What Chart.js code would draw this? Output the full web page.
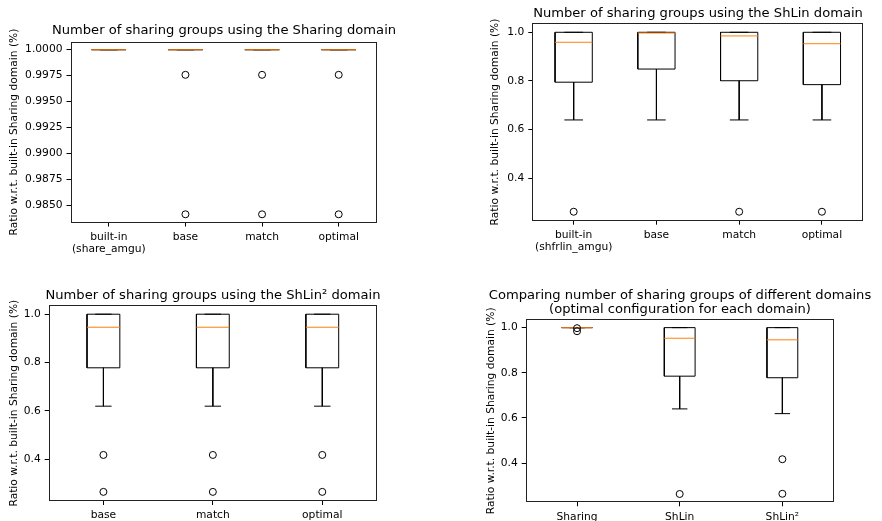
<!DOCTYPE html>
<html>
<head>
<meta charset="utf-8">
<script src="https://cdn.jsdelivr.net/npm/chart.js@4"></script>
<style>
  html, body { margin: 0; padding: 0; background: #fff; overflow: hidden; width: 882px; height: 521px; }
  canvas { position: absolute; }
</style>
</head>
<body>
<canvas id="c1" width="448" height="262" style="left:0px;top:0px"></canvas>
<canvas id="c2" width="436" height="262" style="left:480px;top:0px"></canvas>
<canvas id="c3" width="426" height="259" style="left:0px;top:262px"></canvas>
<canvas id="c4" width="400" height="259" style="left:480px;top:262px"></canvas>
<script>
// Sharing domain
const shCats = ['built-in\n(share_amgu)', 'base', 'match', 'optimal'];
const shLow = [1, 1, 1, 1];
const shQ1 = [1, 1, 1, 1];
const shMed = [1, 1, 1, 1];
const shQ3 = [1, 1, 1, 1];
const shHigh = [1, 1, 1, 1];
const shOut = [[], [0.99758, 0.98414], [0.99758, 0.98414], [0.99758, 0.98414]];
const shTicks = [0.985, 0.9875, 0.99, 0.9925, 0.995, 0.9975, 1.0];

// ShLin domain
const slCats = ['built-in\n(shfrlin_amgu)', 'base', 'match', 'optimal'];
const slLow = [0.64, 0.64, 0.64, 0.64];
const slQ1 = [0.795, 0.849, 0.801, 0.785];
const slMed = [0.959, 0.997, 0.985, 0.953];
const slQ3 = [1, 1, 1, 1];
const slHigh = [1, 1, 1, 1];
const slOut = [[0.263], [], [0.263], [0.263]];
const slTicks = [0.4, 0.6, 0.8, 1.0];

// ShLin² domain
const s2Cats = ['base', 'match', 'optimal'];
const s2Low = [0.619, 0.619, 0.619];
const s2Q1 = [0.778, 0.778, 0.778];
const s2Med = [0.946, 0.946, 0.946];
const s2Q3 = [1, 1, 1];
const s2High = [1, 1, 1];
const s2Out = [[0.417, 0.264], [0.417, 0.264], [0.417, 0.264]];
const s2Ticks = [0.4, 0.6, 0.8, 1.0];

// domains compared (optimal config)
const cmpCats = ['Sharing', 'ShLin', 'ShLin²'];
const cmpLow = [1, 0.64, 0.619];
const cmpQ1 = [1, 0.785, 0.778];
const cmpMed = [1, 0.953, 0.946];
const cmpQ3 = [1, 1, 1];
const cmpHigh = [1, 1, 1];
const cmpOut = [[0.99758, 0.98414], [0.263], [0.417, 0.264]];
const cmpTicks = [0.4, 0.6, 0.8, 1.0];

const yLabelText = 'Ratio w.r.t. built-in Sharing domain (%)';
const FONT = '"DejaVu Sans", sans-serif';
const TITLE_SIZE = 13.1;

Chart.defaults.color = '#000';
Chart.defaults.font.family = FONT;

const framePlugin = {
  id: 'frame',
  afterDatasetsDraw(chart) {
    const a = chart.chartArea, ctx = chart.ctx;
    ctx.save();
    ctx.strokeStyle = '#222';
    ctx.lineWidth = 1;
    const l = Math.round(a.left) + 0.5, t = Math.round(a.top) + 0.5;
    const r = Math.round(a.right) - 0.5, b = Math.round(a.bottom) - 0.5;
    ctx.strokeRect(l, t, r - l, b - t);
    ctx.restore();
  }
};

const yLabelPlugin = {
  id: 'yLabel',
  afterDraw(chart, args, opts) {
    const a = chart.chartArea, ctx = chart.ctx;
    ctx.save();
    ctx.translate(a.left - opts.offset, (a.top + a.bottom) / 2);
    ctx.rotate(-Math.PI / 2);
    ctx.font = '10.7px ' + FONT;
    ctx.fillStyle = '#000';
    ctx.textAlign = 'center';
    ctx.textBaseline = 'middle';
    ctx.fillText(opts.text, 0, 0);
    ctx.restore();
  }
};

function boxDatasets(low, q1, med, q3, high, out) {
  const w = Math.min(0.5, 0.15 * (med.length - 1));
  const boxes = [], whiskers = [], medians = [], fliers = [];
  med.forEach((m, i) => {
    const x = i + 1;
    boxes.push({x: x - w / 2, y: q1[i]}, {x: x + w / 2, y: q1[i]}, {x: x + w / 2, y: q3[i]},
               {x: x - w / 2, y: q3[i]}, {x: x - w / 2, y: q1[i]}, {x: x, y: null});
    whiskers.push({x, y: q1[i]}, {x, y: low[i]}, {x, y: null},
                  {x, y: q3[i]}, {x, y: high[i]}, {x, y: null},
                  {x: x - w / 4, y: low[i]}, {x: x + w / 4, y: low[i]}, {x, y: null},
                  {x: x - w / 4, y: high[i]}, {x: x + w / 4, y: high[i]}, {x, y: null});
    medians.push({x: x - w / 2, y: m}, {x: x + w / 2, y: m}, {x, y: null});
    out[i].forEach(v => fliers.push({x, y: v}));
  });
  const line = (data, color) => ({
    data, yAxisID: 'y', borderColor: color, borderWidth: 1, pointRadius: 0, spanGaps: false, fill: false
  });
  return [
    { data: fliers, yAxisID: 'y', showLine: false, pointStyle: 'circle', pointRadius: 3.5,
      pointBorderColor: '#000', pointBackgroundColor: 'rgba(0,0,0,0)', pointBorderWidth: 1 },
    line(medians, '#ff7f0e'),
    line(whiskers, '#000'),
    line(boxes, '#000')
  ];
}

function makeChart(id, p) {
  const n = p.cats.length;
  const lines = Array.isArray(p.title) ? p.title.length : 1;
  const lh = TITLE_SIZE * (p.titleLH || 1.2);
  const padTop = p.titleY - lh / 2;
  const padBottom = p.axTop - p.titleY - lh / 2 - (lines - 1) * lh;
  new Chart(document.getElementById(id), {
    type: 'line',
    data: { datasets: boxDatasets(p.low, p.q1, p.med, p.q3, p.high, p.out) },
    options: {
      responsive: false,
      animation: false,
      devicePixelRatio: 1,
      events: [],
      layout: { padding: 0 },
      plugins: {
        legend: { display: false },
        tooltip: { enabled: false },
        title: {
          display: true,
          text: p.title,
          color: '#000',
          font: { size: TITLE_SIZE, weight: 'normal', lineHeight: p.titleLH || 1.2 },
          padding: { top: padTop, bottom: padBottom }
        },
        yLabel: { text: yLabelText, offset: p.labelOff }
      },
      scales: {
        x: {
          type: 'linear',
          min: 0.5,
          max: n + 0.5,
          afterBuildTicks: s => { s.ticks = p.cats.map((c, i) => ({ value: i + 1 })); },
          afterFit: s => { s.height = p.xH; },
          ticks: {
            autoSkip: false, maxRotation: 0, padding: 4.5,
            font: { size: 10.7, lineHeight: 1.15 },
            callback: v => p.cats[Math.round(v) - 1].split('\n')
          },
          grid: { display: true, drawOnChartArea: false, drawTicks: true, tickLength: 4, color: '#000' },
          border: { display: false }
        },
        y: {
          type: 'linear',
          min: p.ymin,
          max: p.ymax,
          afterBuildTicks: s => { s.ticks = p.ticks.map(v => ({ value: v })); },
          afterFit: s => { s.width = p.yW; },
          ticks: {
            autoSkip: false, padding: 4,
            font: { size: 10.7 },
            callback: v => v.toFixed(p.dec)
          },
          grid: { display: true, drawOnChartArea: false, drawTicks: true, tickLength: 4, color: '#000' },
          border: { display: false }
        },
        // empty right-hand box so the title stays centred over the axes
        y2: {
          type: 'linear',
          position: 'right',
          display: true,
          afterFit: s => { s.width = p.padR; },
          ticks: { display: false },
          grid: { display: false, drawTicks: false },
          border: { display: false }
        }
      }
    },
    plugins: [framePlugin, yLabelPlugin]
  });
}

makeChart('c1', {
  cats: shCats, low: shLow, q1: shQ1, med: shMed, q3: shQ3, high: shHigh, out: shOut,
  ticks: shTicks, dec: 4, ymin: 0.98335, ymax: 1.00079,
  title: 'Number of sharing groups using the Sharing domain',
  titleY: 30.3, axTop: 41.5, yW: 70.5, padR: 71, xH: 39.5, labelOff: 56.5
});
makeChart('c2', {
  cats: slCats, low: slLow, q1: slQ1, med: slMed, q3: slQ3, high: slHigh, out: slOut,
  ticks: slTicks, dec: 1, ymin: 0.2262, ymax: 1.0369,
  title: 'Number of sharing groups using the ShLin domain',
  titleY: 13.6, axTop: 23.3, yW: 52.3, padR: 52.7, xH: 41.3, labelOff: 37.3
});
makeChart('c3', {
  cats: s2Cats, low: s2Low, q1: s2Q1, med: s2Med, q3: s2Q3, high: s2High, out: s2Out,
  ticks: s2Ticks, dec: 1, ymin: 0.2262, ymax: 1.0369,
  title: 'Number of sharing groups using the ShLin² domain',
  titleY: 33.1, axTop: 43.3, yW: 48.7, padR: 49, xH: 20, labelOff: 34.7
});
makeChart('c4', {
  cats: cmpCats, low: cmpLow, q1: cmpQ1, med: cmpMed, q3: cmpQ3, high: cmpHigh, out: cmpOut,
  ticks: cmpTicks, dec: 1, ymin: 0.2262, ymax: 1.0369,
  title: ['Comparing number of sharing groups of different domains', '(optimal configuration for each domain)'],
  titleLH: 1.07, titleY: 33.1, axTop: 57.3, yW: 45.7, padR: 46.3, xH: 18.7, labelOff: 34
});
</script>
</body>
</html>
